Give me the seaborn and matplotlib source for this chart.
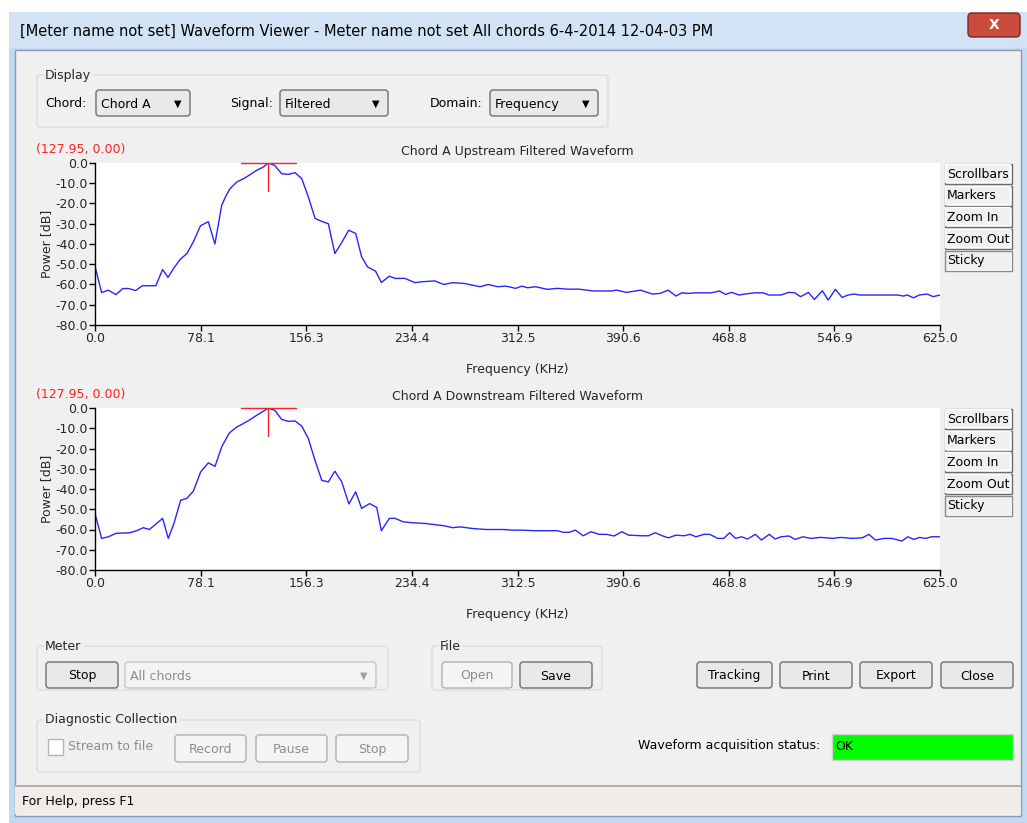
import numpy as np
import pandas as pd
import seaborn as sns
import matplotlib.pyplot as plt
from matplotlib.patches import Rectangle, FancyBboxPatch

# spectrum (frequency in KHz, power in dB)
up_freq = [0, 4.9, 9.8, 15.5, 20.5, 25, 30, 35, 40, 45,
           50, 54, 58.5, 63, 68, 72.7, 78, 83.8, 88.7, 93.7,
           97, 100, 104.8, 110, 114.6, 119.6, 124.5, 128, 133, 138,
           143, 148, 152.9, 157.8, 162.8, 167.6, 172.6, 177.4, 182.5, 187.6,
           192.8, 197.2, 201.6, 207.5, 211.8, 217.7, 222, 229.3, 236.7, 241,
           251.3, 258, 264.5, 273.2, 284.9, 290.7, 298, 303.9, 311.2, 315.6,
           320, 325.8, 334.6, 341.9, 349.3, 358, 368.3, 381.5, 385.8, 393.1,
           403.4, 412.2, 418, 423.9, 429.7, 434.1, 438.5, 445.8, 456, 461.9,
           466.3, 470.7, 476.5, 480.9, 488.2, 494.1, 498.4, 507.2, 513.1, 517.5,
           521.9, 527.7, 532.1, 538, 542.3, 547.6, 552.6, 557, 561.4, 565.8,
           577.5, 593.6, 598, 600.9, 605.3, 609.7, 615.5, 619.9, 625]
up_power = [-51, -64, -62.8, -65, -62, -62, -63, -60.6, -60.6, -60.6,
            -52.6, -56.5, -51.7, -47.6, -44.7, -39, -31, -29, -40, -20.9,
            -16, -12.6, -9.4, -7.7, -5.8, -3.6, -2, 0.0, -1.2, -5.3,
            -5.6, -4.8, -7.7, -16.8, -27.4, -28.8, -30, -44.7, -39.3, -33.2,
            -34.8, -46.3, -51.3, -53.4, -59, -55.9, -57, -57, -59.1, -58.7,
            -58.2, -60, -59.1, -59.5, -61.1, -60, -61.1, -60.8, -61.9, -60.8,
            -61.6, -61.1, -62.4, -61.9, -62.3, -62.3, -63.2, -63.2, -62.8, -63.9,
            -62.8, -64.7, -64.4, -62.8, -65.7, -64.1, -64.4, -64.1, -64.1, -63.2,
            -64.9, -63.9, -65.2, -64.7, -64.1, -64.1, -65.2, -65.2, -63.9, -64.1,
            -66, -63.9, -67.4, -63.1, -67.7, -62.4, -66.4, -65.2, -64.7, -65.2,
            -65.2, -65.2, -65.7, -65.2, -66.6, -65.2, -64.7, -66, -65.2]

down_freq = [0, 4.9, 9.9, 15.5, 25.9, 30.8, 35.7, 40.2, 45.6, 50,
             54.2, 58.4, 63.4, 67.8, 72.7, 78.2, 83.8, 88.8, 93.7, 99.4,
             104.8, 109.7, 114.6, 119.6, 124.5, 128, 133.1, 138, 143, 147.9,
             152.9, 157.8, 162.7, 167.7, 172.6, 177.4, 182.5, 187.8, 192.8, 197.2,
             203.1, 208.4, 211.8, 217.7, 222, 227.9, 235.2, 244, 258.6, 264.5,
             270.3, 279.1, 289.3, 302.5, 308.4, 314.2, 325.9, 331.8, 342, 346.4,
             350.8, 355.2, 361.1, 366.9, 372.8, 378.6, 383.9, 389.7, 394.7, 404.9,
             409.3, 414.3, 419.6, 424, 429.8, 435.7, 440.1, 444.5, 450.3, 454.7,
             460.6, 465, 469.4, 473.8, 478.2, 482.6, 488.5, 492.9, 498.7, 503.1,
             507.5, 513.4, 517.8, 523.6, 529.5, 536.8, 545.6, 551.4, 560.2, 567.5,
             572.5, 577.2, 583.6, 589.5, 596.8, 601.2, 605.6, 610, 614.4, 618.8, 625]
down_power = [-52.1, -64.4, -63.6, -61.9, -61.6, -60.6, -59.1, -60, -57, -54.5,
              -64.4, -57, -45.5, -44.7, -41.1, -31.5, -27.1, -28.8, -19.2, -12.3,
              -9.4, -7.7, -5.8, -3.6, -1.6, 0.0, -1.2, -5.6, -6.6, -6.4,
              -8.9, -15.1, -25.8, -35.7, -36.5, -31.2, -36.5, -47.4, -41.4, -49.6,
              -47.2, -49.1, -60.6, -54.5, -54.5, -56.2, -56.7, -57, -58.2, -59.1,
              -58.7, -59.5, -60, -60, -60.3, -60.3, -60.6, -60.6, -60.6, -61.4,
              -61.4, -60.3, -63.1, -61.1, -62.4, -62.4, -63.2, -61.1, -62.8, -63.1,
              -63.1, -61.6, -63.1, -64.1, -62.8, -63.1, -62.4, -63.6, -62.4, -62.4,
              -64.4, -64.4, -61.6, -64.4, -63.6, -64.7, -62.4, -65.2, -62.4, -64.7,
              -63.6, -63.2, -64.9, -63.6, -64.4, -63.9, -64.4, -63.9, -64.4, -64.1,
              -62.4, -65.2, -64.4, -64.4, -65.7, -63.6, -64.9, -63.9, -64.4, -63.6, -63.6]

x_ticks = [0, 78.125, 156.25, 234.375, 312.5, 390.625, 468.75, 546.875, 625]
x_tick_labels = ["0.0", "78.1", "156.3", "234.4", "312.5", "390.6", "468.8", "546.9", "625.0"]
y_ticks = [0, -10, -20, -30, -40, -50, -60, -70, -80]
y_tick_labels = ["0.0", "-10.0", "-20.0", "-30.0", "-40.0", "-50.0", "-60.0", "-70.0", "-80.0"]

marker_freq = 127.95
marker_power = 0.0
plot_titles = ["Chord A Upstream Filtered Waveform", "Chord A Downstream Filtered Waveform"]
side_buttons = ["Scrollbars", "Markers", "Zoom In", "Zoom Out", "Sticky"]

sns.set_theme(style="white")
plt.rcParams['font.family'] = ['DejaVu Sans']

W, H = 1027, 823
fig = plt.figure(figsize=(W / 100, H / 100), dpi=100)
fig.patch.set_facecolor('white')

# background axes in pixel coordinates for the window chrome
bg = fig.add_axes([0, 0, 1, 1])
bg.set_xlim(0, W)
bg.set_ylim(H, 0)
bg.axis('off')


def rect(x0, y0, x1, y1, fc, ec='none', lw=1, z=1):
    bg.add_patch(Rectangle((x0, y0), x1 - x0, y1 - y0, facecolor=fc, edgecolor=ec, linewidth=lw, zorder=z))


def label(x, y, s, size=9, color='black', ha='left', z=5, **kw):
    bg.text(x, y, s, fontsize=size, color=color, ha=ha, va='center', zorder=z, **kw)


def button(x0, y0, x1, y1, s, enabled=True):
    bg.add_patch(FancyBboxPatch((x0, y0), x1 - x0, y1 - y0, boxstyle="round,pad=0,rounding_size=3",
                                facecolor='#e9e9e9' if enabled else '#f4f4f4',
                                edgecolor='#707070' if enabled else '#adb2b5', linewidth=1, zorder=3))
    label((x0 + x1) / 2, (y0 + y1) / 2 + 1, s, color='black' if enabled else '#8d8d8d', ha='center')


def group(x0, y0, x1, y1, s):
    bg.add_patch(FancyBboxPatch((x0, y0), x1 - x0, y1 - y0, boxstyle="round,pad=0,rounding_size=3",
                                facecolor='none', edgecolor='#d5dfe5', linewidth=1, zorder=2))
    bg.text(x0 + 8, y0, s, fontsize=9, ha='left', va='center', zorder=5,
            bbox=dict(facecolor='#f0f0f0', edgecolor='none', pad=1))


def combo(x0, y0, x1, y1, s, enabled=True):
    bg.add_patch(FancyBboxPatch((x0, y0), x1 - x0, y1 - y0, boxstyle="round,pad=0,rounding_size=3",
                                facecolor='#e9e9e9' if enabled else '#f4f4f4',
                                edgecolor='#707070' if enabled else '#c5c5c5', linewidth=1, zorder=3))
    label(x0 + 5, (y0 + y1) / 2 + 1, s, color='black' if enabled else '#8d8d8d')
    label(x1 - 12, (y0 + y1) / 2 + 1, '▼', size=7, color='black' if enabled else '#a0a0a0', ha='center')


# window frame, title bar and client area
rect(9, 12, W, 823, '#c4d8ef')
rect(9, 12, W, 48, '#d3e3f6')
rect(15, 50, 1021, 816, '#f0f0f0', ec='#8a9bb0', lw=1)
label(20, 31, "[Meter name not set] Waveform Viewer - Meter name not set All chords 6-4-2014 12-04-03 PM", size=10.5)
bg.add_patch(FancyBboxPatch((968, 13), 52, 24, boxstyle="round,pad=0,rounding_size=4",
                            facecolor='#c94c3c', edgecolor='#7a2a22', linewidth=1, zorder=3))
label(994, 25, 'X', size=10, color='white', ha='center', weight='bold')

# display group
group(37, 75, 608, 127, "Display")
label(45, 103, "Chord:")
combo(96, 90, 190, 116, "Chord A")
label(230, 103, "Signal:")
combo(280, 90, 388, 116, "Filtered")
label(430, 103, "Domain:")
combo(490, 90, 598, 116, "Frequency")

# the two spectrum plots
data = [(up_freq, up_power), (down_freq, down_power)]
plot_tops = [163, 408]
for (freq, power), top, title in zip(data, plot_tops, plot_titles):
    ax = fig.add_axes([95 / W, 1 - (top + 162) / H, 845 / W, 162 / H])
    df = pd.DataFrame({'freq': freq, 'power': power})
    sns.lineplot(data=df, x='freq', y='power', ax=ax, color='#2626ff', linewidth=1.0,
                 estimator=None, sort=False)
    ax.plot([marker_freq - 20, marker_freq + 21], [marker_power, marker_power], color='#ff2020', lw=1.0, clip_on=False)
    ax.plot([marker_freq, marker_freq], [marker_power, marker_power - 13.8], color='#ff2020', lw=1.0)
    ax.set_xlim(0, 625)
    ax.set_ylim(-80, 0)
    ax.set_xticks(x_ticks)
    ax.set_xticklabels(x_tick_labels)
    ax.set_yticks(y_ticks)
    ax.set_yticklabels(y_tick_labels)
    ax.tick_params(axis='both', direction='out', length=4, width=1, color='black',
                   labelsize=9, pad=1, bottom=True, left=True)
    for side in ['top', 'right']:
        ax.spines[side].set_visible(False)
    for side in ['left', 'bottom']:
        ax.spines[side].set_color('black')
        ax.spines[side].set_linewidth(1)
    ax.set_facecolor('white')
    ax.set_xlabel("Frequency (KHz)", fontsize=9, labelpad=13)
    ax.set_ylabel("Power [dB]", fontsize=9, labelpad=2)
    ax.set_title(title, fontsize=9, pad=6)
    label(36, top - 14, "({:.2f}, {:.2f})".format(marker_freq, marker_power), color='#ff2020')
    # side buttons
    for i, name in enumerate(side_buttons):
        y0 = top + 1 + i * 21.7
        pressed = name == "Sticky"
        rect(945, y0, 1012, y0 + 20, '#f0f0f0', ec='#6d6d6d' if not pressed else '#8a8a8a', lw=1, z=3)
        if not pressed:
            rect(945, y0, 1010, y0 + 18, '#f0f0f0', ec='white', lw=1, z=3)
        else:
            rect(947, y0 + 2, 1012, y0 + 20, '#f0f0f0', ec='none', z=3)
        label(947, y0 + 10, name, size=9, z=6)

# meter / file groups and buttons
group(37, 646, 388, 690, "Meter")
button(46, 662, 118, 688, "Stop")
combo(125, 662, 376, 688, "All chords", enabled=False)
group(432, 646, 602, 690, "File")
button(442, 662, 512, 688, "Open", enabled=False)
button(520, 662, 592, 688, "Save")
button(697, 662, 772, 688, "Tracking")
button(780, 662, 852, 688, "Print")
button(860, 662, 932, 688, "Export")
button(941, 662, 1013, 688, "Close")

group(37, 720, 420, 772, "Diagnostic Collection")
rect(48, 739, 63, 755, 'white', ec='#b5b5b5', z=3)
label(68, 747, "Stream to file", color='#8d8d8d')
button(175, 735, 246, 762, "Record", enabled=False)
button(256, 735, 327, 762, "Pause", enabled=False)
button(336, 735, 408, 762, "Stop", enabled=False)

label(820, 746, "Waveform acquisition status:", ha='right')
rect(832, 734, 1013, 760, '#00ff00', ec='#d0d0d0', z=3)
label(835, 747, "OK")

# status bar
rect(15, 785, 1021, 787, '#b0b0b0', z=3)
rect(15, 787, 1021, 814, '#f0ecea', z=3)
label(22, 802, "For Help, press F1")

plt.savefig('out.png', dpi=100)
